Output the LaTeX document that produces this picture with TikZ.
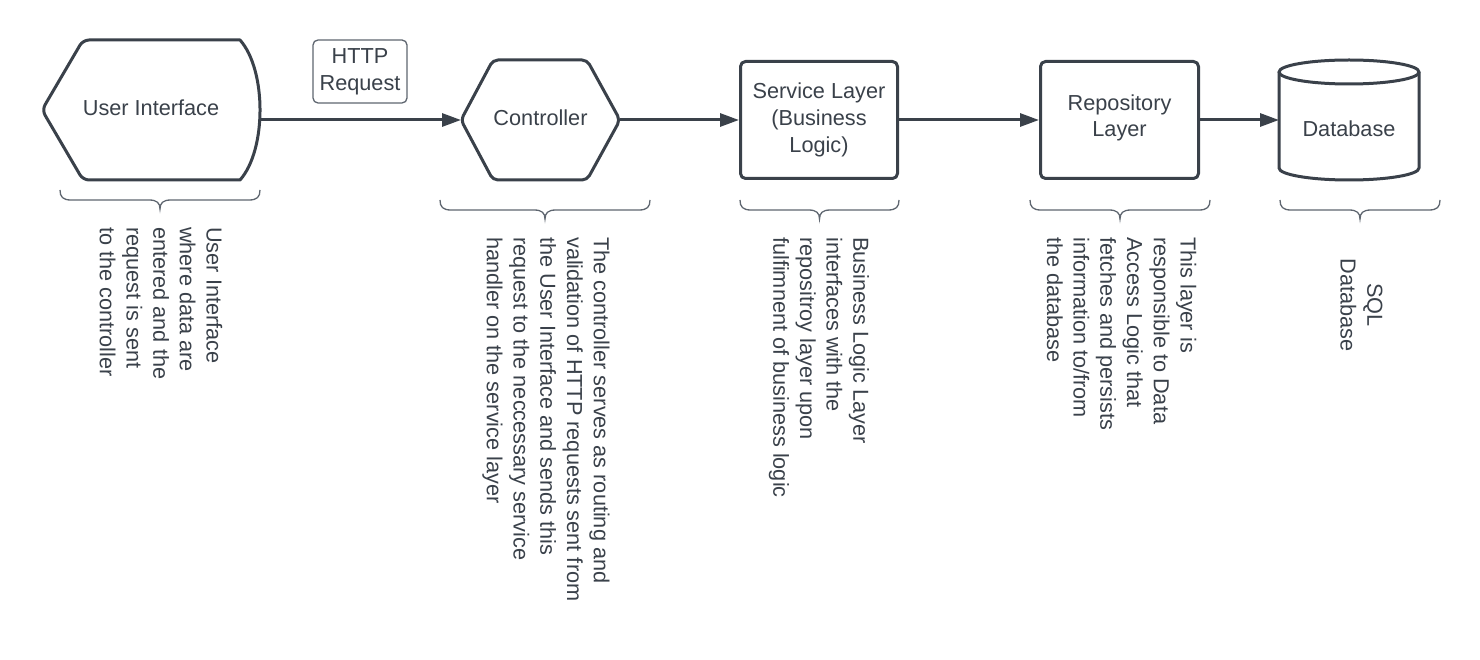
\documentclass[tikz,border=0pt]{standalone}
\usepackage{fontspec}
\setmainfont{Liberation Sans}
\usetikzlibrary{arrows.meta}
\definecolor{ink}{HTML}{3A414A}
\definecolor{thinink}{HTML}{5F6670}
\newcommand{\curlybrace}[3]{%
  \draw[curly] (#1,#3) .. controls (#1,#3+7) and (#1+3,#3+10) .. (#1+11,#3+10)
    -- ({(#1+#2)/2-11},#3+10) .. controls ({(#1+#2)/2-3},#3+10) and ({(#1+#2)/2},#3+13) .. ({(#1+#2)/2},#3+19)
    .. controls ({(#1+#2)/2},#3+13) and ({(#1+#2)/2+3},#3+10) .. ({(#1+#2)/2+11},#3+10)
    -- (#2-11,#3+10) .. controls (#2-3,#3+10) and (#2,#3+7) .. (#2,#3);}
\begin{document}
\begin{tikzpicture}[x=1pt,y=-1pt,
  font=\fontsize{21.7}{26.7}\selectfont,
  every node/.style={text=ink},
  outline/.style={draw=ink, line width=3pt, line join=round},
  holder/.style={inner sep=0pt, outer sep=0pt},
  conn/.style={draw=ink, line width=3pt, -{Triangle[length=19pt,width=13pt]}},
  curly/.style={draw=thinink, line width=1.3pt},
  note/.style={rotate=-90, anchor=west, align=left, inner sep=0pt},
  tag/.style={draw=thinink, line width=1.3pt, rounded corners=5pt, align=center,
    minimum width=94pt, minimum height=63pt, inner sep=0pt}]
\fill[white] (0,0) rectangle (1480,660);
\useasboundingbox (0,0) rectangle (1480,660);

% User Interface (display shape)
\node[holder, minimum width=218pt, minimum height=140pt] (ui) at (151,108) {User Interface};
\draw[outline] (160,40) -- (240,40) .. controls (266.7,70) and (266.7,150) .. (240,180)
  [rounded corners=6pt] -- (83,180) -- (42,110) -- (83,40) [sharp corners] -- (160,40);

% HTTP Request label
\node[tag] (http) at (360,71.5) {HTTP\\Request};

% Controller (hexagon)
\node[holder, minimum width=159pt, minimum height=120pt, text depth=5.5pt] (ctrl) at (540.5,120) {Controller};
\draw[outline, rounded corners=5pt] (ctrl.north) -- ([xshift=-33pt]ctrl.north east) -- (ctrl.east)
  -- ([xshift=-33pt]ctrl.south east) -- ([xshift=32pt]ctrl.south west) -- (ctrl.west)
  -- ([xshift=32pt]ctrl.north west) -- cycle;

% Service layer
\node[outline, rounded corners=5pt, minimum width=157pt, minimum height=117pt, align=center, inner sep=0pt]
  (svc) at (819,120) {Service Layer\\(Business\\Logic)};

% Repository layer
\node[outline, rounded corners=5pt, minimum width=158pt, minimum height=117pt, align=center, inner sep=0pt]
  (repo) at (1119.5,120) {Repository\\Layer\rule[-8.5pt]{0pt}{8.5pt}};

% Database (cylinder)
\node[holder, minimum width=140pt, minimum height=96pt] (db) at (1349,129) {Database};
\draw[outline] (1279,72) -- (1279,168) arc[start angle=180, end angle=360, x radius=70pt, y radius=12pt] -- (1419,72);
\draw[outline] (1349,72) ellipse [x radius=70pt, y radius=12pt];

% Connectors
\draw[conn] (ctrl.west -| ui.east) -- (ctrl.west);
\draw[conn] (ctrl.east) -- (svc.west);
\draw[conn] (svc.east) -- (repo.west);
\draw[conn] (repo.east) -- (repo.east -| db.west);

% Braces
\curlybrace{60}{260}{190}
\curlybrace{440}{650}{200}
\curlybrace{740}{899}{200}
\curlybrace{1030}{1210}{200}
\curlybrace{1280}{1440}{200}

% Notes
\node[note] (uinote) at (161,227) {User Interface\\where data are\\entered and the\\request is sent\\to the controller};
\node[note] (ctrlnote) at (546,237) {The controller serves as routing and\\validation of HTTP requests sent from\\the User Interface and sends this\\request to the neccessary service\\handler on the service layer};
\node[note] (svcnote) at (819,237) {Business Logic Layer\\interfaces with the\\repositroy layer upon\\fulfimnent of business logic};
\node[note] (reponote) at (1121.5,237) {This layer is\\responsible to Data\\Access Logic that\\fetches and persists\\information to/from\\the database};
\node[holder, rotate=-90, align=center] (dbnote) at (1361.5,305) {SQL\\Database};
\end{tikzpicture}
\end{document}
